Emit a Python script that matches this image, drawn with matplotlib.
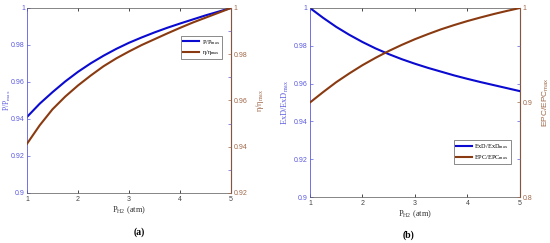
import matplotlib
matplotlib.use("Agg")
import matplotlib.pyplot as plt

# pressure of H2 (atm)
p_h2 = [1.0, 1.25, 1.5, 1.75, 2.0, 2.25, 2.5, 2.75, 3.0,
        3.25, 3.5, 3.75, 4.0, 4.25, 4.5, 4.75, 5.0]

# panel (a)
p_ratio = [0.9411, 0.9483, 0.9545, 0.9603, 0.9655, 0.9701, 0.9742, 0.9779, 0.9812,
           0.9841, 0.9868, 0.9893, 0.9916, 0.9938, 0.9960, 0.9980, 1.0]
eta_ratio = [0.9413, 0.9493, 0.9562, 0.9617, 0.9665, 0.9708, 0.9748, 0.9782, 0.9812,
             0.9840, 0.9865, 0.9890, 0.9914, 0.9937, 0.9958, 0.9979, 1.0]

# panel (b)
exd_ratio = [1.0, 0.9948, 0.9900, 0.9858, 0.9820, 0.9786, 0.9756, 0.9729, 0.9705,
             0.9683, 0.9663, 0.9643, 0.9625, 0.9608, 0.9592, 0.9576, 0.9560]
epc_ratio = [0.9, 0.9110, 0.9215, 0.9308, 0.9395, 0.9473, 0.9545, 0.9610, 0.9670,
             0.9724, 0.9775, 0.9820, 0.9862, 0.9900, 0.9936, 0.9969, 1.0]

left_ticks = [0.9, 0.92, 0.94, 0.96, 0.98, 1]
left_labels = ["0.9", "0.92", "0.94", "0.96", "0.98", "1"]
x_ticks = [1, 2, 3, 4, 5]

blue = "#0a0ad0"
brown = "#8a3a10"
blue_ax = "#5a5ae0"
brown_ax = "#a0684a"
serif = "Liberation Serif"
sans = "Liberation Sans"
tfs = 5

fig = plt.figure(figsize=(5.5, 2.43), dpi=100)


def style_axes(ax, ax2):
    ax.set_xlim(1, 5)
    ax.set_xticks(x_ticks)
    ax.set_xticklabels([str(t) for t in x_ticks], fontsize=tfs, family=sans, color="#444444")
    ax.tick_params(axis="x", direction="in", length=2, width=0.5, top=True, pad=2)
    ax.tick_params(axis="y", direction="in", length=2, width=0.5, colors=blue_ax, pad=2)
    ax2.tick_params(axis="y", direction="in", length=2, width=0.5, colors=brown_ax, pad=2)
    ax2.tick_params(axis="y", which="minor", direction="in", length=2, width=0.5, colors=blue_ax)
    for s in ["top", "bottom"]:
        ax.spines[s].set_color("#555555")
        ax.spines[s].set_linewidth(0.5)
    ax.spines["left"].set_color(blue_ax)
    ax.spines["left"].set_linewidth(0.6)
    ax2.spines["right"].set_color(brown_ax)
    ax2.spines["right"].set_linewidth(0.6)
    ax2.spines["left"].set_visible(False)
    ax2.spines["top"].set_visible(False)
    ax2.spines["bottom"].set_visible(False)
    ax.set_xlabel("P$_{\\mathregular{H2}}$ (atm)", fontsize=6, family=serif, color="#333333", labelpad=1)


def make_legend(ax, handles, anchor):
    leg = ax.legend(handles=handles, loc="upper right", bbox_to_anchor=anchor,
                    prop={"family": serif, "size": 4.5}, frameon=True, fancybox=False,
                    handlelength=2.6, borderpad=0.3, labelspacing=0.3, handletextpad=0.4,
                    borderaxespad=0)
    leg.get_frame().set_edgecolor("#333333")
    leg.get_frame().set_linewidth(0.5)
    return leg


# ---- (a)
ax1 = fig.add_axes([0.0491, 0.2058, 0.3709, 0.7613])
ax1b = ax1.twinx()
l1, = ax1.plot(p_h2, p_ratio, color=blue, lw=1.5, label="P/P$_{\\mathregular{max}}$")
l2, = ax1b.plot(p_h2, eta_ratio, color=brown, lw=1.5, label="η/η$_{\\mathregular{max}}$")
ax1.set_ylim(0.9, 1)
ax1.set_yticks(left_ticks)
ax1.set_yticklabels(left_labels, fontsize=tfs, family=sans)
ax1b.set_ylim(0.92, 1)
ax1b.set_yticks([0.92, 0.94, 0.96, 0.98, 1])
ax1b.set_yticklabels(["0.92", "0.94", "0.96", "0.98", "1"], fontsize=tfs, family=sans)
ax1b.set_yticks([0.93, 0.95, 0.97, 0.99], minor=True)
style_axes(ax1, ax1b)
ax1.tick_params(axis="y", pad=1.5)
ax1.set_ylabel("P/P$_{\\mathregular{max}}$", fontsize=5.5, family=serif, color=blue_ax)
ax1.yaxis.set_label_coords(-0.07, 0.5)
ax1b.set_ylabel("η/η$_{\\mathregular{max}}$", fontsize=6, family=serif, color=brown_ax)
ax1b.yaxis.set_label_coords(1.115, 0.5)
make_legend(ax1b, [l1, l2], (0.955, 0.85))
fig.text(0.253, 0.035, "(a)", fontsize=7, family=serif, fontweight="bold", ha="center")

# ---- (b)
ax2 = fig.add_axes([0.5636, 0.1893, 0.3818, 0.7778])
ax2b = ax2.twinx()
l3, = ax2.plot(p_h2, exd_ratio, color=blue, lw=1.5, label="ExD/ExD$_{\\mathregular{max}}$")
l4, = ax2b.plot(p_h2, epc_ratio, color=brown, lw=1.5, label="EPC/EPC$_{\\mathregular{max}}$")
ax2.set_ylim(0.9, 1)
ax2.set_yticks(left_ticks)
ax2.set_yticklabels(left_labels, fontsize=tfs, family=sans)
ax2b.set_ylim(0.8, 1)
ax2b.set_yticks([0.8, 0.9, 1])
ax2b.set_yticklabels(["0.8", "0.9", "1"], fontsize=tfs, family=sans)
ax2b.set_yticks([0.84, 0.88, 0.92, 0.96], minor=True)
style_axes(ax2, ax2b)
ax2.set_ylabel("ExD/ExD$_{\\mathregular{max}}$", fontsize=6, family=serif, color=blue_ax)
ax2.yaxis.set_label_coords(-0.09, 0.5)
ax2b.set_ylabel("EPC/EPC$_{\\mathregular{max}}$", fontsize=6, family=sans, color=brown_ax)
ax2b.yaxis.set_label_coords(1.1, 0.5)
make_legend(ax2b, [l3, l4], (0.955, 0.3))
fig.text(0.742, 0.022, "(b)", fontsize=7, family=serif, fontweight="bold", ha="center")

fig.savefig("out.png", dpi=100)
